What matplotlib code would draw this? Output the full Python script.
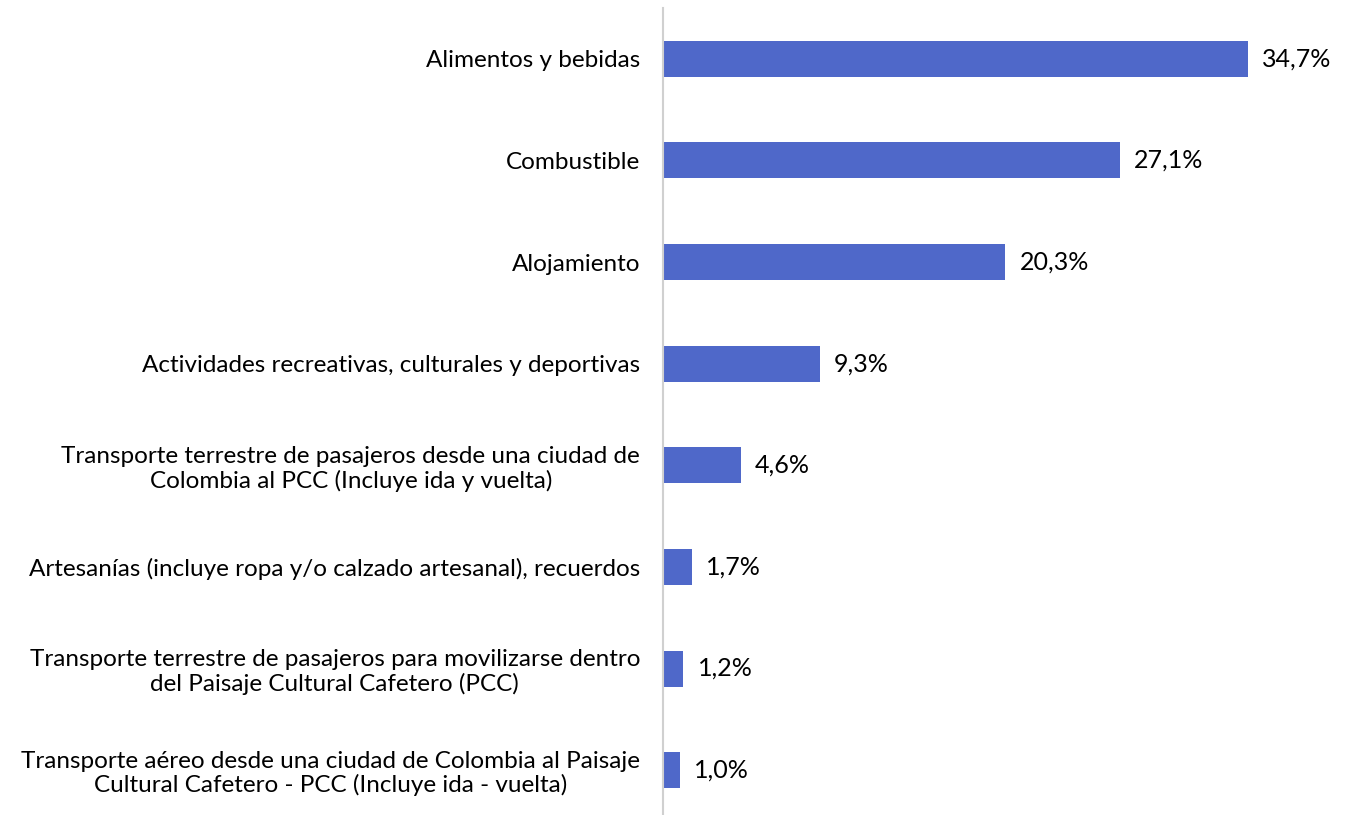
import matplotlib
matplotlib.use("Agg")
import matplotlib.pyplot as plt

categories = [
    "Alimentos y bebidas",
    "Combustible",
    "Alojamiento",
    "Actividades recreativas, culturales y deportivas",
    "Transporte terrestre de pasajeros desde una ciudad de\nColombia al PCC (Incluye ida y vuelta)",
    "Artesanías (incluye ropa y/o calzado artesanal), recuerdos",
    "Transporte terrestre de pasajeros para movilizarse dentro\ndel Paisaje Cultural Cafetero (PCC)",
    "Transporte aéreo desde una ciudad de Colombia al Paisaje\nCultural Cafetero - PCC (Incluye ida - vuelta)",
]
values = [34.7, 27.1, 20.3, 9.3, 4.6, 1.7, 1.2, 1.0]
value_labels = ["34,7%", "27,1%", "20,3%", "9,3%", "4,6%", "1,7%", "1,2%", "1,0%"]

BAR_COLOR = "#4F68C9"
FONT = "Lato"

fig = plt.figure(figsize=(13.48, 8.15), dpi=100)
ax = fig.add_axes([663 / 1348, -6 / 815, 673 / 1348, 813 / 815])

y = list(range(len(categories)))
ax.barh(y, values, height=0.355, color=BAR_COLOR)
ax.set_ylim(len(categories) - 0.5, -0.5)
ax.set_xlim(0, 673 / (585 / 34.7))

ax.set_yticks(y)
ax.set_yticklabels(categories, fontsize=17.5, family=FONT, ha="right",
                   multialignment="center", linespacing=1.15)
ax.tick_params(axis="y", length=0, pad=16.5)

ax.set_xticks([])
for s in ["top", "right", "bottom"]:
    ax.spines[s].set_visible(False)
ax.spines["left"].set_color("#D0D0D0")
ax.spines["left"].set_linewidth(1.5)

for yi, v, t in zip(y, values, value_labels):
    ax.text(v + 0.85, yi, t, va="center", ha="left", fontsize=18, family=FONT,
            color="#000000")

fig.savefig("out.png", dpi=100, facecolor="white")
